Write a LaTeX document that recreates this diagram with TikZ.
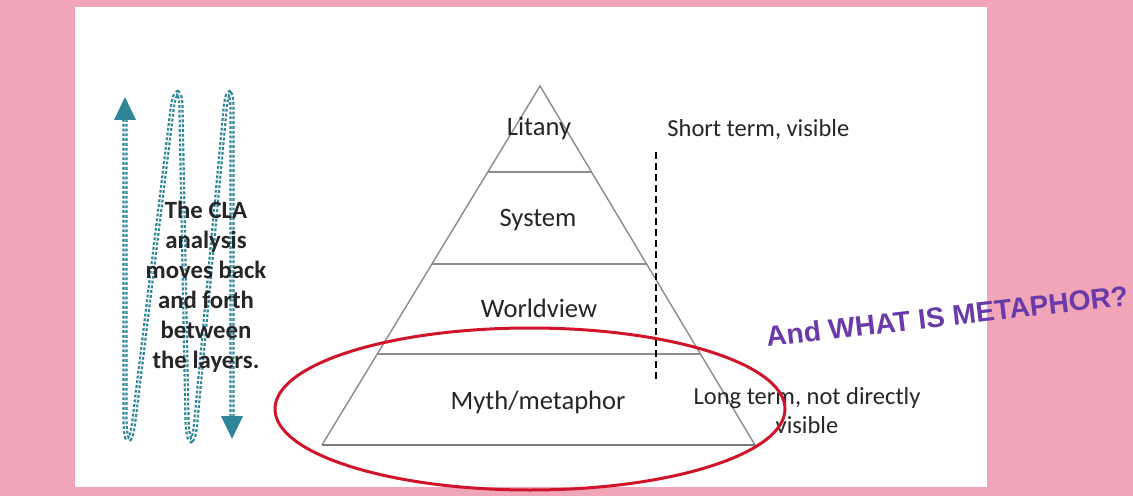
\documentclass[tikz,border=0pt]{standalone}
\usepackage{fontspec}
\setmainfont{Carlito}
\newfontfamily\headfont{Liberation Sans}
\usetikzlibrary{calc}

\definecolor{pagepink}{HTML}{F0A6B8}
\definecolor{flowteal}{HTML}{2F8598}
\definecolor{ringred}{HTML}{D0152B}
\definecolor{askpurple}{HTML}{6A3AAA}
\definecolor{edgegray}{HTML}{8C8C8C}
\definecolor{basegray}{HTML}{7A7A7A}
\definecolor{inkgray}{HTML}{262626}

\tikzset{
  edge/.style={draw=edgegray, line width=0.7pt},
  baseedge/.style={draw=basegray, line width=1pt},
  layerlabel/.style={font=\fontsize{13.3pt}{16pt}\selectfont, text=inkgray, inner sep=0pt, anchor=base},
  sidelabel/.style={font=\fontsize{12.25pt}{14.5pt}\selectfont, text=inkgray, inner sep=0pt},
  flowtext/.style={font=\bfseries\fontsize{12.4pt}{15pt}\selectfont, text=inkgray, align=center, inner sep=0pt},
  flowline/.style={draw=flowteal, line width=1.1pt, double=white, double distance=0.45pt,
                   dash pattern=on 1.4pt off 1pt},
  flowtip/.style={fill=flowteal},
  divider/.style={draw=black, line width=1pt, dash pattern=on 3.5pt off 2pt},
  ring/.style={draw=ringred, line width=1.5pt},
  asktext/.style={font=\headfont\bfseries\fontsize{14.1pt}{16pt}\selectfont, text=askpurple, inner sep=0pt}
}

\begin{document}
\begin{tikzpicture}[x=0.5pt, y=-0.5pt]
  % page and white panel
  \fill[pagepink] (0,0) rectangle (1133,496);
  \useasboundingbox (0,0) rectangle (1133,496);
  \fill[white] (75,7) rectangle (987,487);

  % back-and-forth dotted path with its two arrowheads
  \coordinate (uptip) at (125,97);
  \coordinate (flowstart) at (125,119);
  \coordinate (downtip) at (232,439);
  \coordinate (flowend) at (232,417);
  \draw[flowline] (flowstart) -- (125,418)
      .. controls (125,446) and (131,447) .. (134,420) -- (172,110)
      .. controls (175,86) and (181,88) .. (181,110) -- (187,420)
      .. controls (188,447) and (194,447) .. (196,420) -- (225,110)
      .. controls (227,87) and (232,88) .. (232,110) -- (flowend);
  \fill[flowtip] (uptip) -- ++(-11,23) -- ++(22,0) -- cycle;
  \fill[flowtip] (downtip) -- ++(-11,-23) -- ++(22,0) -- cycle;
  \node[flowtext] (cla) at (206,287) {The CLA\\analysis\\moves back\\and forth\\between\\the layers.};

  % pyramid of layers
  \coordinate (apex) at (540,86);
  \coordinate (bl) at (322,445);
  \coordinate (br) at (755,445);
  \draw[edge] (bl) -- (apex) -- (br);
  \draw[baseedge] (bl) -- (br);
  \foreach \t in {0.2396,0.4958,0.7465}
    \draw[edge] ($(apex)!\t!(bl)$) -- ($(apex)!\t!(br)$);

  \node[layerlabel] (litany) at (539,136) {Litany};
  \node[layerlabel] (system) at (538,227) {System};
  \node[layerlabel] (worldview) at (539,317) {Worldview};
  \node[layerlabel] (myth) at (538,409) {Myth/metaphor};

  % visibility scale
  \coordinate (dtop) at (656,152);
  \coordinate (dbot) at (656,383);
  \draw[divider] (dtop) -- (dbot);
  \node[sidelabel, anchor=base west] (short) at (667,137) {Short term, visible};
  \node[sidelabel, align=center] (long) at (807,411) {Long term, not directly\\visible};

  % highlight round the deepest layer
  \draw[ring] (530,409) ellipse [x radius=127.5pt, y radius=40.5pt];

  % question
  \node[asktext, anchor=base west, rotate=6.6] (ask) at (767,347) {And WHAT IS METAPHOR?};
\end{tikzpicture}
\end{document}
